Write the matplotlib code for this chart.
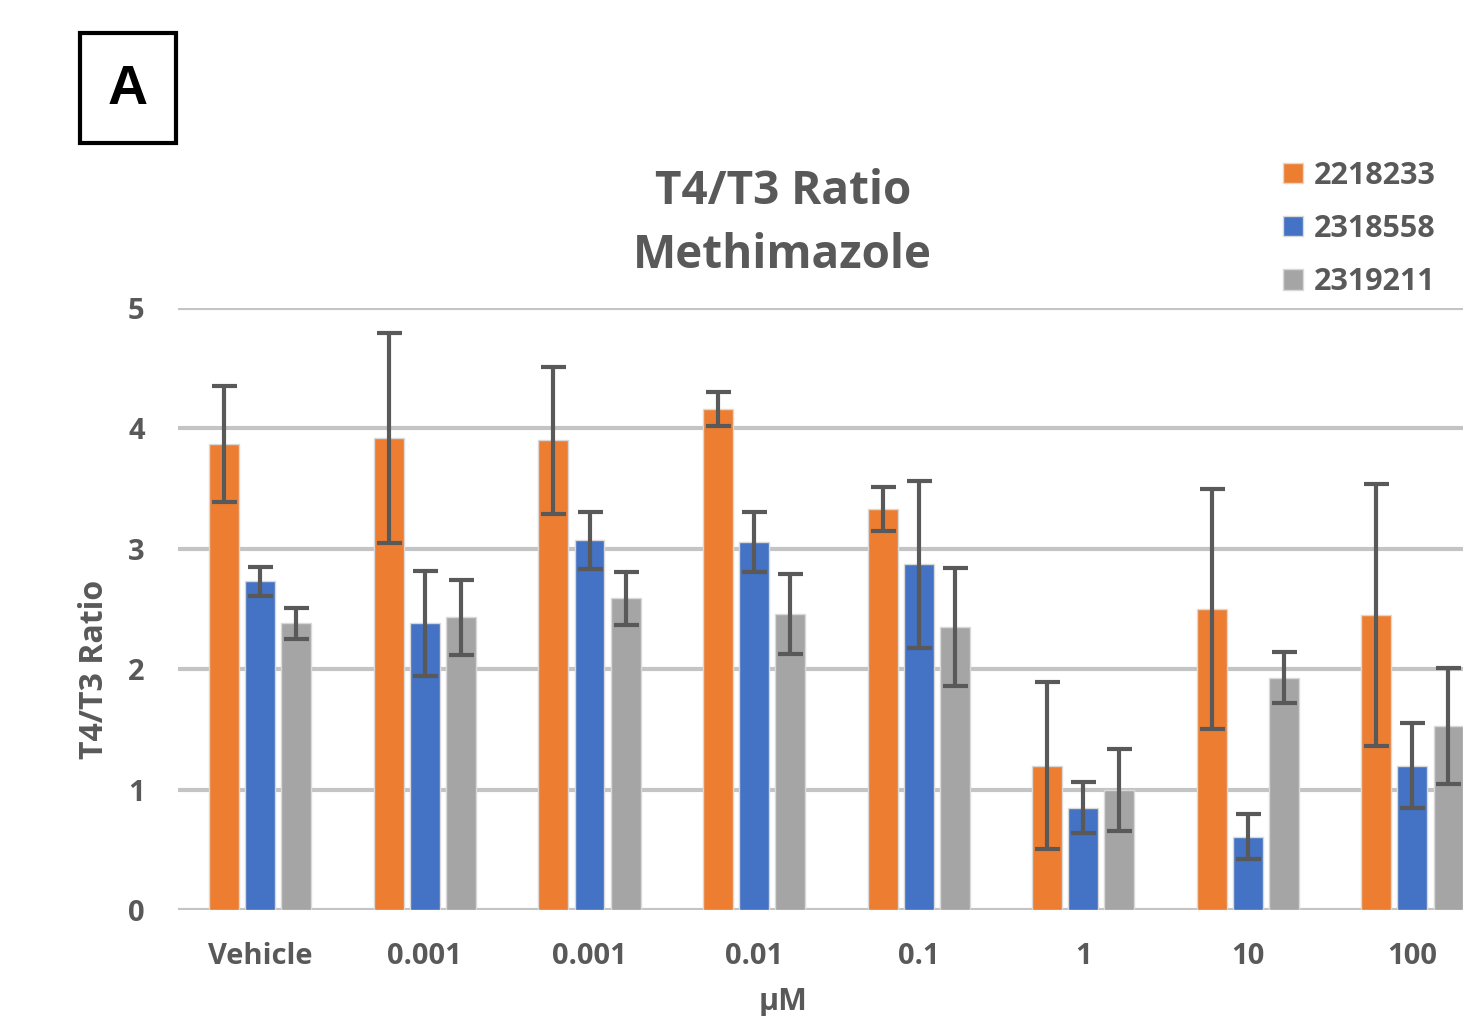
import numpy as np
import matplotlib.pyplot as plt
from matplotlib.patches import Rectangle

plt.rcParams['font.family'] = ['Open Sans', 'DejaVu Sans']

# data
doses = ['Vehicle', '0.001', '0.001', '0.01', '0.1', '1', '10', '100']
series = ['2218233', '2318558', '2319211']
colors = ['#ED7D31', '#4472C4', '#A5A5A5']

mean_2218233 = [3.87, 3.92, 3.90, 4.16, 3.33, 1.20, 2.50, 2.45]
err_2218233 = [0.48, 0.87, 0.61, 0.14, 0.18, 0.69, 1.00, 1.09]
mean_2318558 = [2.73, 2.38, 3.07, 3.06, 2.87, 0.85, 0.61, 1.20]
err_2318558 = [0.12, 0.44, 0.24, 0.25, 0.69, 0.21, 0.19, 0.35]
mean_2319211 = [2.38, 2.43, 2.59, 2.46, 2.35, 1.00, 1.93, 1.53]
err_2319211 = [0.13, 0.31, 0.22, 0.33, 0.49, 0.34, 0.21, 0.48]

means = [mean_2218233, mean_2318558, mean_2319211]
errs = [err_2218233, err_2318558, err_2319211]

grey = '#595959'

fig = plt.figure(figsize=(14.63, 10.16), dpi=100)
ax = fig.add_axes([0.1217, 0.1043, 0.900, 0.5925])

x = np.arange(len(doses))
w = 0.182
offs = [-0.219, 0, 0.219]

for i in range(3):
    ax.bar(x + offs[i], means[i], width=w, color=colors[i], edgecolor='#d9d9d9',
           linewidth=1, label=series[i], zorder=3)
    ax.errorbar(x + offs[i], means[i], yerr=errs[i], fmt='none', ecolor=grey,
                elinewidth=3, capsize=9, capthick=3, zorder=4)

ax.set_xlim(-0.5, len(doses) - 0.5)
ax.set_ylim(0, 5)
ax.set_yticks(range(6))
ax.yaxis.grid(True, color='#c4c4c4', linewidth=3, zorder=0)
ax.set_axisbelow(True)
for s in ax.spines.values():
    s.set_visible(False)
ax.tick_params(length=0, colors=grey, labelsize=21)
ax.tick_params(axis='x', pad=23)
ax.tick_params(axis='y', pad=24)
ax.set_xticks(x)
ax.set_xticklabels(doses, fontweight='bold')
for t in ax.get_yticklabels():
    t.set_fontweight('bold')

ax.set_ylabel('T4/T3 Ratio', fontsize=23, fontweight='bold', color=grey)
ax.yaxis.set_label_coords(-0.051, 0.399)
fig.text(0.535, 1 - 1002 / 1016, 'µM', fontsize=22, fontweight='bold', color=grey,
         ha='center', va='center')

fig.text(0.535, 1 - 191 / 1016, 'T4/T3 Ratio', fontsize=33, fontweight='bold',
         color=grey, ha='center', va='center')
fig.text(0.535, 1 - 255 / 1016, 'Methimazole', fontsize=33, fontweight='bold',
         color=grey, ha='center', va='center')

leg = fig.legend(loc='upper right', bbox_to_anchor=(1.0, 0.869), frameon=False,
                 handlelength=0.65, handleheight=0.65, handletextpad=0.35,
                 labelspacing=0.76, labelcolor=grey, prop={'weight': 'bold', 'size': 22})

fig.patches.append(Rectangle((80 / 1463, 1 - 143 / 1016), 96 / 1463, 110 / 1016,
                             transform=fig.transFigure, fill=False, edgecolor='black',
                             linewidth=3))
fig.text(128 / 1463, 1 - 90 / 1016, 'A', fontsize=40, fontweight='bold', ha='center',
         va='center', family=['Liberation Sans', 'DejaVu Sans'])

fig.savefig('out.png', dpi=100)
